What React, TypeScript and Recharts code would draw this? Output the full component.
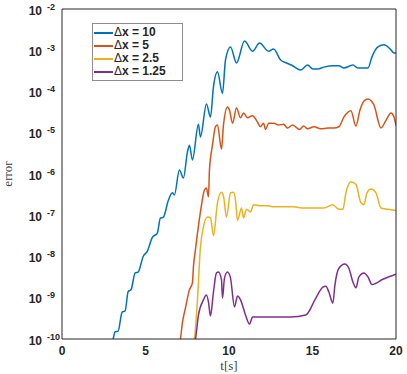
import React from 'react';
import { LineChart, Line, XAxis, YAxis, Legend } from 'recharts';

// time [s] and error for each grid spacing
const t10 = [2.9, 3.06, 3.18, 3.36, 3.6, 3.78, 3.96, 4.14, 4.38, 4.56, 4.86, 5.11, 5.41, 5.71, 5.89, 6.07, 6.37, 6.61, 6.73, 7.03, 7.27, 7.51, 7.63, 7.81, 8.17, 8.29, 8.65, 8.89, 9.07, 9.31, 9.61, 9.79, 10.09, 10.45, 10.93, 11.41, 11.83, 12.37, 12.67, 13.09, 13.45, 13.81, 14.29, 14.71, 15.02, 15.32, 15.68, 16.28, 16.58, 16.88, 17.42, 17.72, 18.32, 18.56, 18.92, 19.28, 19.7, 19.88, 20];
const e10 = [8e-11, 1e-10, 1.5e-10, 1.55e-10, 4.5e-10, 4.8e-10, 1.4e-9, 1.6e-9, 4e-9, 4.2e-9, 1e-8, 1.35e-8, 2.9e-8, 3.7e-8, 8.5e-8, 9e-8, 2.3e-7, 3.5e-7, 3.1e-7, 1.25e-6, 8e-7, 3.4e-6, 5e-6, 2.2e-6, 1.6e-5, 7.9e-6, 5e-5, 2.4e-5, 1.3e-4, 3e-4, 9e-5, 5.8e-4, 1.2e-3, 4.9e-4, 1.67e-3, 9.5e-4, 1.5e-3, 9.5e-4, 1.07e-3, 5.8e-4, 4.9e-4, 4.2e-4, 3.3e-4, 4.4e-4, 3.5e-4, 3.5e-4, 3.9e-4, 4.2e-4, 4.2e-4, 3.7e-4, 4.4e-4, 3.7e-4, 3.7e-4, 6.9e-4, 1.2e-3, 1.35e-3, 1.02e-3, 8.6e-4, 8.6e-4];

const t5 = [7.0, 7.09, 7.21, 7.39, 7.63, 7.81, 7.87, 7.99, 8.29, 8.53, 8.65, 8.77, 8.83, 9.01, 9.19, 9.31, 9.55, 9.67, 9.91, 10.03, 10.21, 10.45, 10.69, 10.87, 11.11, 11.41, 11.71, 11.89, 12.07, 12.19, 12.37, 12.67, 12.97, 13.27, 13.51, 13.81, 14.23, 14.47, 14.71, 15.08, 15.5, 15.92, 16.28, 16.58, 16.88, 17.3, 17.6, 17.84, 18.08, 18.32, 18.68, 19.1, 19.4, 19.7, 19.88, 20];
const e5 = [8e-11, 1e-10, 2.5e-10, 5.6e-10, 1.55e-9, 2.3e-9, 5.6e-9, 1.45e-8, 1.2e-7, 4.1e-7, 4.6e-7, 2.8e-7, 1.25e-6, 5e-6, 1.4e-5, 1.55e-5, 4e-6, 1.55e-5, 4.2e-5, 3.5e-5, 1.7e-5, 4e-5, 2.3e-5, 3e-5, 2.3e-5, 2.6e-5, 1.8e-5, 1.4e-5, 1.7e-5, 1.2e-5, 1.7e-5, 1.7e-5, 1.55e-5, 1.6e-5, 1.3e-5, 1.55e-5, 1.2e-5, 1.45e-5, 1.25e-5, 1.4e-5, 1.25e-5, 1.3e-5, 1.3e-5, 1.4e-5, 2.4e-5, 3.4e-5, 1.45e-5, 3.5e-5, 5.9e-5, 6.6e-5, 4.7e-5, 1.3e-5, 2e-5, 3e-5, 2.4e-5, 1.5e-5];

const t25 = [7.85, 7.93, 8.11, 8.29, 8.47, 8.71, 8.89, 9.07, 9.31, 9.55, 9.67, 9.85, 10.09, 10.27, 10.39, 10.51, 10.75, 10.87, 11.05, 11.29, 11.47, 11.89, 12.31, 12.67, 13.27, 13.87, 14.47, 15.08, 15.68, 16.22, 16.58, 16.82, 17.0, 17.3, 17.6, 17.9, 18.08, 18.26, 18.5, 18.8, 19.1, 19.52, 20];
const e25 = [8e-11, 1e-10, 8.5e-10, 1.7e-8, 5.2e-8, 9.1e-8, 8.7e-8, 3.2e-8, 2e-7, 3.6e-7, 2.9e-7, 9e-8, 3.5e-7, 3.6e-7, 2.3e-7, 7.5e-8, 1.5e-7, 8.7e-8, 1.4e-7, 1.2e-7, 1.8e-7, 1.7e-7, 1.7e-7, 1.6e-7, 1.6e-7, 1.6e-7, 1.5e-7, 1.5e-7, 1.5e-7, 1.8e-7, 1.4e-7, 1.4e-7, 3.5e-7, 6.5e-7, 5.6e-7, 2e-7, 1.8e-7, 3.5e-7, 4.3e-7, 3.5e-7, 1.5e-7, 1.4e-7, 1.3e-7];

const t125 = [7.9, 7.99, 8.17, 8.47, 8.65, 8.77, 8.89, 9.07, 9.25, 9.37, 9.55, 9.61, 9.73, 9.91, 10.09, 10.33, 10.51, 10.69, 10.99, 11.23, 11.41, 11.47, 12.67, 13.69, 14.59, 15.2, 15.62, 15.8, 15.98, 16.22, 16.34, 16.58, 16.94, 17.18, 17.42, 17.6, 17.78, 18.08, 18.32, 18.56, 19.22, 20];
const e125 = [8e-11, 1e-10, 3.8e-10, 8.9e-10, 1.17e-9, 7.9e-10, 3.6e-10, 1.38e-9, 4e-9, 4.2e-9, 2.7e-9, 9.8e-10, 3e-9, 4.2e-9, 3e-9, 6e-10, 1.1e-9, 8.9e-10, 3.8e-10, 2.3e-10, 3.4e-10, 3.4e-10, 3.4e-10, 3.4e-10, 3.8e-10, 9.8e-10, 1.8e-9, 1.9e-9, 1.38e-9, 7.4e-10, 2e-9, 5.2e-9, 6.6e-9, 5.2e-9, 2.4e-9, 1.74e-9, 3.2e-9, 4e-9, 3.2e-9, 2.1e-9, 2.8e-9, 3.7e-9];

const seriesLabels = ['10', '5', '2.5', '1.25'];
const seriesNames = seriesLabels.map(v => `Δx = ${v}`);
const seriesColors = ['#0072BD', '#D95319', '#EDB120', '#7E2F8E'];
const xTicks = [0, 5, 10, 15, 20];
const exponents = [-10, -9, -8, -7, -6, -5, -4, -3, -2];

const zip = (ts: number[], es: number[]) => ts.map((t, i) => ({ t, e: es[i] }));
const series = [zip(t10, e10), zip(t5, e5), zip(t25, e25), zip(t125, e125)];

const yMajor = exponents.map(d => Math.pow(10, d));
const yMinor: number[] = [];
exponents.slice(0, -1).forEach(d => {
  for (let k = 2; k <= 9; k++) yMinor.push(k * Math.pow(10, d));
});

const AX = '#262626';
const FONT = '"Liberation Sans", Arial, Helvetica, sans-serif';
const SERIF = '"Liberation Serif", "Times New Roman", serif';

const YTick = (props: any) => {
  const { x, y, payload } = props;
  const exp = Math.round(Math.log10(payload.value));
  return (
    <g fontFamily={FONT} fontWeight="bold" fill={AX}>
      <text x={x - 20} y={y + 5.5} textAnchor="end" fontSize={12}>10</text>
      <text x={x - 15} y={y + 0.5} fontSize={9}>{exp}</text>
    </g>
  );
};

const XTick = (props: any) => {
  const { x, y, payload } = props;
  return (
    <text x={x} y={y + 16} textAnchor="middle" fontFamily={FONT} fontWeight="bold" fontSize={12} fill={AX}>
      {payload.value}
    </text>
  );
};

const XTitle = (props: any) => {
  const vb = props.viewBox;
  return (
    <text x={vb.x + vb.width / 2} y={vb.y + vb.height - 4} textAnchor="middle" fontFamily={SERIF} fontSize={13} fill="#404040">
      t[s]
    </text>
  );
};

const YTitle = (props: any) => {
  const vb = props.viewBox;
  const cy = vb.y + vb.height / 2;
  return (
    <text x={9} y={cy} transform={`rotate(-90, 9, ${cy})`} textAnchor="middle" dominantBaseline="middle" fontFamily={SERIF} fontSize={13} fill="#404040">
      error
    </text>
  );
};

const LegendBox = () => (
  <div style={{ border: '1px solid #8c8c8c', background: '#fff', padding: '2px 0 0 0', boxSizing: 'border-box', width: 91, height: 58 }}>
    {seriesLabels.map((v, i) => (
      <div key={v} style={{ display: 'flex', alignItems: 'center', height: 13 }}>
        <div style={{ width: 19, height: 2, background: seriesColors[i], marginLeft: 0.5, marginRight: 1.5 }} />
        <span style={{ fontFamily: FONT, fontSize: 12, color: AX, whiteSpace: 'pre', lineHeight: '13px' }}>
          <span style={{ fontWeight: 'normal' }}>Δ</span>
          <span style={{ fontWeight: 'bold' }}>{`x = ${v}`}</span>
        </span>
      </div>
    ))}
  </div>
);

export default function App() {
  return (
    <div style={{ position: 'absolute', left: 0, top: 0, background: '#fff' }}>
      <LineChart width={407} height={374} margin={{ top: 9, right: 11, bottom: 0, left: 0 }}>
        <XAxis xAxisId="x" type="number" dataKey="t" domain={[0, 20]} ticks={xTicks} allowDataOverflow height={35}
          tickSize={0} tickMargin={0} tickLine={false} axisLine={{ stroke: AX }} tick={<XTick />} label={{ content: XTitle }} />
        <XAxis xAxisId="xb" type="number" domain={[0, 20]} ticks={xTicks} allowDataOverflow mirror
          tick={false} tickSize={4} axisLine={false} tickLine={{ stroke: AX }} />
        <XAxis xAxisId="xt" type="number" orientation="top" domain={[0, 20]} ticks={xTicks} allowDataOverflow mirror
          tick={false} tickSize={4} axisLine={{ stroke: AX }} tickLine={{ stroke: AX }} />
        <YAxis yAxisId="y" scale="log" domain={[1e-10, 1e-2]} ticks={yMajor} allowDataOverflow width={62}
          tickSize={0} tickMargin={0} tickLine={false} axisLine={{ stroke: AX }} tick={<YTick />} label={{ content: YTitle }} />
        <YAxis yAxisId="yl" scale="log" domain={[1e-10, 1e-2]} ticks={yMajor} allowDataOverflow mirror
          tick={false} tickSize={4} axisLine={false} tickLine={{ stroke: AX }} />
        <YAxis yAxisId="ylm" scale="log" domain={[1e-10, 1e-2]} ticks={yMinor} allowDataOverflow mirror
          tick={false} tickSize={2} axisLine={false} tickLine={{ stroke: AX }} />
        <YAxis yAxisId="yr" orientation="right" scale="log" domain={[1e-10, 1e-2]} ticks={yMajor} allowDataOverflow mirror
          tick={false} tickSize={4} axisLine={{ stroke: AX }} tickLine={{ stroke: AX }} />
        <YAxis yAxisId="yrm" orientation="right" scale="log" domain={[1e-10, 1e-2]} ticks={yMinor} allowDataOverflow mirror
          tick={false} tickSize={2} axisLine={false} tickLine={{ stroke: AX }} />
        <Legend layout="vertical" align="center" verticalAlign="middle" content={<LegendBox />}
          wrapperStyle={{ left: 92, top: 23, width: 91, height: 58 }} />
        {series.map((d, i) => (
          <Line key={seriesNames[i]} xAxisId="x" yAxisId="y" data={d} dataKey="e" name={seriesNames[i]}
            type="monotone" stroke={seriesColors[i]} strokeWidth={1.5} dot={false} isAnimationActive={false} />
        ))}
      </LineChart>
    </div>
  );
}
